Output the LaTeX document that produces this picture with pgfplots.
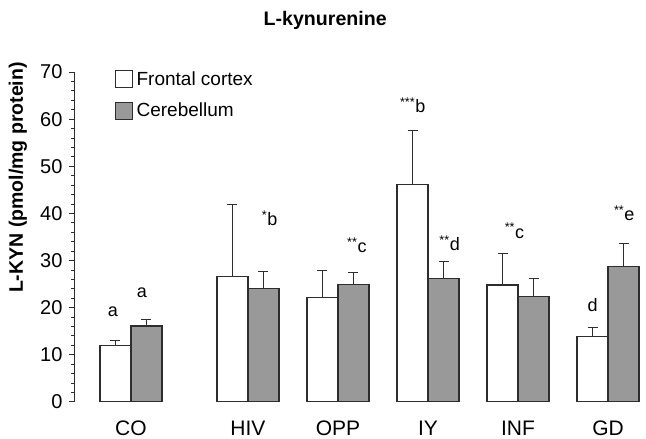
\documentclass[border=0pt]{standalone}
\usepackage{pgfplots}
\pgfplotsset{compat=1.18}
\usepackage{fontspec}
\setmainfont{Liberation Sans}
\definecolor{cbgray}{RGB}{153,153,153}
\definecolor{edge}{RGB}{45,45,45}

% group positions: CO sits a little further apart
\pgfplotstableread{
x   y    e
0   12.0 1.1
1.3 26.6 15.2
2.3 22.2 5.8
3.3 46.2 11.4
4.3 24.8 6.7
5.3 13.9 1.9
}\frontal
\pgfplotstableread{
x   y    e
0   16.1 1.5
1.3 24.0 3.6
2.3 25.0 2.5
3.3 26.2 3.7
4.3 22.3 3.8
5.3 28.8 4.9
}\cereb

\begin{document}
\begin{tikzpicture}
\begin{axis}[
    scale only axis, width=570pt, height=330pt,
    xmin=-0.622, xmax=5.711, ymin=0, ymax=70,
    ybar, bar width=31pt,
    axis lines=left,
    axis line style={-, draw=edge, line width=1pt},
    x axis line style={draw=none},
    xtick={0,1.3,2.3,3.3,4.3,5.3},
    xticklabels={CO,HIV,OPP,IY,INF,GD},
    x tick style={draw=none},
    ytick={0,10,...,70}, minor y tick num=4,
    tick align=outside,
    major tick length=6pt, minor tick length=3.5pt,
    y tick style={draw=edge, line width=1pt},
    /pgf/number format/assume math mode=true,
    yticklabel style={anchor=east, xshift=-3pt, font=\fontsize{20}{20}\selectfont},
    xticklabel style={anchor=base, yshift=-28pt, inner sep=1pt, font=\fontsize{21}{21}\selectfont},
    ylabel={\textbf{L-KYN (pmol/mg protein)}},
    ylabel style={at={(rel axis cs:0,0.68)}, anchor=center, yshift=57pt,
        font=\fontsize{19.5}{19.5}\selectfont},
    title={\textbf{L-kynurenine}},
    title style={at={(rel axis cs:0.439,1)}, anchor=center, yshift=46pt,
        font=\fontsize{19.6}{19.6}\selectfont},
    legend style={draw=none, fill=none, at={(rel axis cs:0.07,1.012)}, anchor=north west,
        font=\fontsize{19}{19}\selectfont, row sep=9pt, inner sep=0pt,
        nodes={inner sep=3.5pt}},
    legend cell align=left,
    error bars/y dir=plus, error bars/y explicit,
    error bars/error bar style={draw=edge, line width=1pt},
    error bars/error mark options={draw=edge, line width=1pt, mark size=5pt, rotate=90},
]
\addlegendimage{legend image code/.code={\draw[fill=white, draw=edge, line width=1pt] (0pt,-8.5pt) rectangle (17pt,8.5pt);}}
\addlegendentry{Frontal cortex}
\addlegendimage{legend image code/.code={\draw[fill=cbgray, draw=edge, line width=1pt] (0pt,-8.5pt) rectangle (17pt,8.5pt);}}
\addlegendentry{Cerebellum}

\addplot[fill=white, draw=edge, line width=1.2pt, bar shift=-15.5pt, forget plot]
    table[x=x, y=y, y error=e] {\frontal};
\addplot[fill=cbgray, draw=edge, line width=1.2pt, bar shift=15.5pt, forget plot]
    table[x=x, y=y, y error=e] {\cereb};

\begin{scope}[every node/.style={font=\fontsize{18}{18}\selectfont}]
\node at (axis cs:-0.2,19.1) {a};
\node at (axis cs:0.12,23.1) {a};
\node at (axis cs:1.54,39) {\textsuperscript{*}b};
\node at (axis cs:2.51,33.3) {\textsuperscript{**}c};
\node at (axis cs:3.13,63) {\textsuperscript{***}b};
\node at (axis cs:3.54,33.7) {\textsuperscript{**}d};
\node at (axis cs:4.26,36.3) {\textsuperscript{**}c};
\node at (axis cs:5.13,20.6) {d};
\node at (axis cs:5.48,40) {\textsuperscript{**}e};
\end{scope}
\end{axis}
\pgfresetboundingbox
\path (current axis.south west) ++(-75pt,-37pt) rectangle ++(646pt,439pt);
\end{tikzpicture}
\end{document}
